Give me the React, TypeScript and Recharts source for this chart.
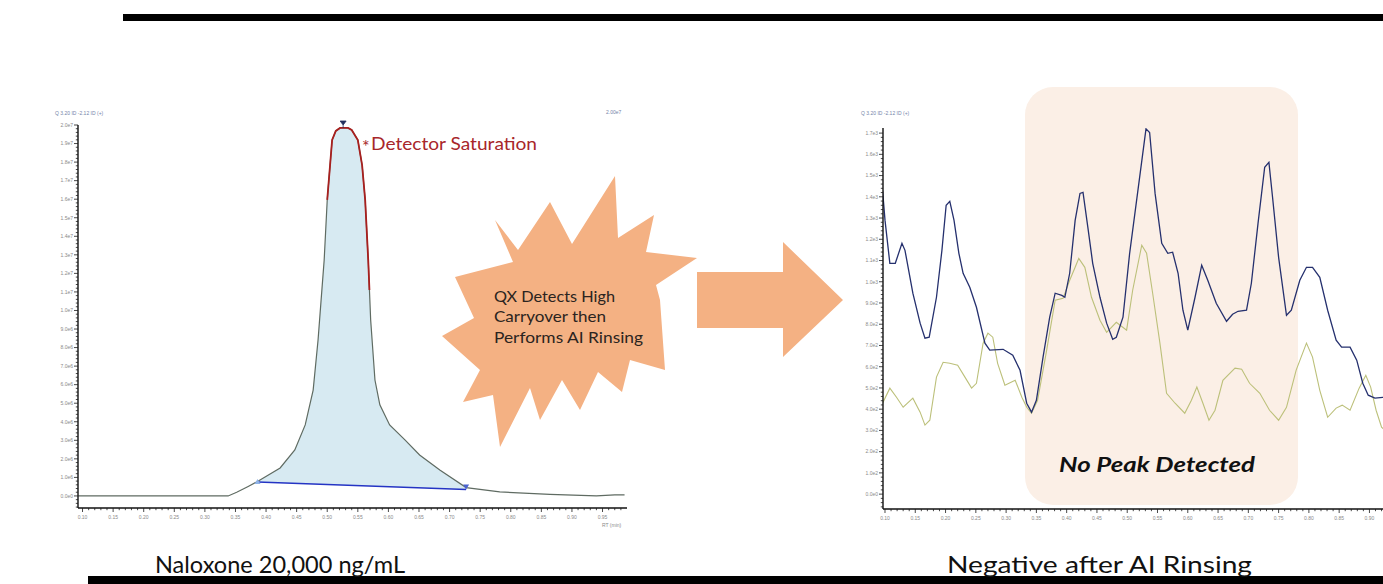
import React from 'react'
import { ComposedChart, LineChart, Line, Area, XAxis, YAxis, ReferenceDot } from 'recharts'

// left panel: saturated naloxone injection (RT min, intensity)
const naloxoneTrace: [number, number][] = [
  [0.093, 0], [0.2, 0], [0.338, 0], [0.352, 0.2e6], [0.37, 0.5e6], [0.386, 0.78e6],
  [0.423, 1.51e6], [0.447, 2.48e6], [0.464, 3.83e6], [0.477, 5.71e6], [0.485, 8.41e6],
  [0.49, 10.57e6], [0.495, 12.72e6], [0.5, 15.96e6], [0.508, 19.19e6], [0.514, 19.68e6],
  [0.521, 19.84e6], [0.534, 19.84e6], [0.54, 19.73e6], [0.55, 19.19e6], [0.557, 17.84e6],
  [0.562, 15.96e6], [0.567, 12.72e6], [0.569, 11.1e6], [0.571, 9.49e6], [0.578, 6.25e6],
  [0.586, 4.91e6], [0.602, 3.83e6], [0.627, 3.02e6], [0.651, 2.21e6], [0.684, 1.4e6],
  [0.727, 0.45e6], [0.782, 0.22e6], [0.864, 0.08e6], [0.94, 0], [0.97, 0.06e6], [0.986, 0.06e6],
]
const integrationBaseline: [number, number][] = [[0.386, 0.75e6], [0.727, 0.35e6]]
const saturatedRange = [0.5, 0.569]
const apexMarker = [0.526, 2.0e7]

// right panel: blank after rinse (RT min, counts)
const blankTraceA: [number, number][] = [
  [0.096, 1430], [0.1, 1290], [0.108, 1087], [0.117, 1087], [0.128, 1181], [0.133, 1148],
  [0.146, 946], [0.158, 805], [0.166, 734], [0.173, 739], [0.185, 927], [0.194, 1148],
  [0.201, 1360], [0.207, 1379], [0.214, 1289], [0.222, 1134], [0.229, 1040], [0.24, 974],
  [0.251, 880], [0.265, 711], [0.273, 678], [0.295, 682], [0.311, 654], [0.323, 583],
  [0.334, 428], [0.342, 386], [0.35, 442], [0.361, 645], [0.372, 833], [0.381, 946],
  [0.392, 936], [0.397, 927], [0.405, 1040], [0.414, 1289], [0.422, 1416], [0.427, 1421],
  [0.435, 1256], [0.443, 1087], [0.455, 927], [0.466, 805], [0.476, 729], [0.482, 739],
  [0.493, 833], [0.504, 1134], [0.531, 1720], [0.537, 1703], [0.546, 1416], [0.557, 1181],
  [0.567, 1134], [0.575, 1139], [0.584, 1040], [0.592, 866], [0.6, 772], [0.612, 927],
  [0.623, 1078], [0.633, 1007], [0.647, 899], [0.664, 814], [0.674, 847], [0.683, 861],
  [0.697, 866], [0.705, 993], [0.716, 1275], [0.727, 1539], [0.734, 1562], [0.74, 1398],
  [0.75, 1115], [0.763, 842], [0.771, 866], [0.785, 1007], [0.796, 1068], [0.806, 1068],
  [0.818, 1021], [0.831, 866], [0.845, 725], [0.854, 692], [0.868, 692], [0.879, 631],
  [0.889, 522], [0.898, 466], [0.909, 452], [0.922, 456], [0.94, 450],
]
const blankTraceB: [number, number][] = [
  [0.096, 428], [0.108, 499], [0.119, 456], [0.13, 409], [0.146, 452], [0.158, 386],
  [0.166, 325], [0.174, 348], [0.185, 551], [0.196, 621], [0.207, 616], [0.22, 607],
  [0.232, 551], [0.243, 499], [0.251, 522], [0.262, 711], [0.27, 758], [0.278, 739],
  [0.286, 616], [0.298, 513], [0.315, 536], [0.326, 456], [0.334, 409], [0.342, 381],
  [0.352, 442], [0.367, 678], [0.381, 913], [0.394, 922], [0.405, 1007], [0.414, 1068],
  [0.42, 1110], [0.43, 1068], [0.441, 927], [0.455, 819], [0.466, 762], [0.482, 809],
  [0.499, 772], [0.509, 960], [0.524, 1172], [0.532, 1134], [0.542, 946], [0.554, 711],
  [0.565, 475], [0.579, 428], [0.595, 381], [0.606, 442], [0.615, 504], [0.625, 428],
  [0.635, 348], [0.645, 395], [0.658, 536], [0.678, 593], [0.689, 588], [0.702, 522],
  [0.719, 475], [0.735, 395], [0.75, 348], [0.763, 409], [0.779, 584], [0.796, 711],
  [0.806, 645], [0.818, 489], [0.831, 362], [0.845, 405], [0.855, 419], [0.868, 395],
  [0.883, 499], [0.894, 560], [0.902, 504], [0.911, 395], [0.92, 315], [0.935, 280],
]

const steps = (from: number, to: number, step: number) =>
  Array.from({ length: Math.round((to - from) / step) + 1 }, (_, i) => +(from + i * step).toFixed(6))

const leftYTicks = steps(-0.6e6, 2.0e7, 0.2e6)
const rightYTicks = steps(-60, 1700, 20)
const leftXTicks = steps(0.1, 0.98, 0.01)
const rightXTicks = steps(0.1, 0.94, 0.01)

const isMultiple = (v: number, step: number) => Math.abs(v / step - Math.round(v / step)) < 1e-6
const tickFont = 'Liberation Sans, Arial, sans-serif'
const peach = '#f4b183'

const yTick = (step: number) => (p: any) => {
  const v = p.payload.value
  const major = isMultiple(v, step)
  return (
    <g>
      <line x1={p.x} x2={p.x - (major ? 4 : 2.2)} y1={p.y} y2={p.y} stroke="#1a1a1a" strokeWidth={0.8} />
      {major && v >= 0 && (
        <text x={p.x - 5} y={p.y + 1.8} textAnchor="end" fontSize={5} fill="#8a8a8a" fontFamily={tickFont}>
          {v.toExponential(1).replace('+', '')}
        </text>
      )}
    </g>
  )
}

const xTick = (p: any) => {
  const v = p.payload.value
  const major = isMultiple(v, 0.05)
  return (
    <g>
      <line x1={p.x} x2={p.x} y1={p.y} y2={p.y + (major ? 4 : 2.2)} stroke="#1a1a1a" strokeWidth={0.8} />
      {major && (
        <text x={p.x} y={p.y + 11} textAnchor="middle" fontSize={5} fill="#8a8a8a" fontFamily={tickFont}>
          {v.toFixed(2)}
        </text>
      )}
    </g>
  )
}

function NaloxonePanel() {
  const [[b0x, b0y], [b1x, b1y]] = integrationBaseline
  const data = naloxoneTrace.map(([rt, v]) => ({
    rt,
    v,
    sat: rt >= saturatedRange[0] && rt <= saturatedRange[1] ? v : null,
    band: rt >= b0x && rt <= b1x ? [b0y + ((rt - b0x) / (b1x - b0x)) * (b1y - b0y), v] : null,
  }))
  const baseline = integrationBaseline.map(([rt, base]) => ({ rt, base }))
  return (
    <ComposedChart width={630} height={440} data={data} margin={{ top: 25, right: 23, bottom: 12, left: 8 }}>
      <XAxis
        type="number"
        dataKey="rt"
        domain={[0.0926, 0.99]}
        ticks={leftXTicks}
        interval={0}
        tick={xTick}
        tickSize={0}
        tickMargin={0}
        tickLine={false}
        height={20}
        allowDataOverflow
        axisLine={{ stroke: '#111', strokeWidth: 1.4 }}
      />
      <YAxis
        type="number"
        domain={[-0.65e6, 2.0e7]}
        ticks={leftYTicks}
        interval={0}
        tick={yTick(1e6)}
        tickSize={0}
        tickMargin={0}
        tickLine={false}
        width={50}
        allowDataOverflow
        axisLine={{ stroke: '#111', strokeWidth: 1.4 }}
      />
      <Area dataKey="band" stroke="none" fill="#d7eaf2" fillOpacity={1} isAnimationActive={false} />
      <Line dataKey="v" stroke="#5f6b62" strokeWidth={1.2} dot={false} isAnimationActive={false} />
      <Line dataKey="sat" stroke="#a8201f" strokeWidth={1.8} dot={false} connectNulls={false} isAnimationActive={false} />
      <Line data={baseline} dataKey="base" stroke="#2434c4" strokeWidth={1.5} dot={false} isAnimationActive={false} />
      <ReferenceDot
        x={apexMarker[0]}
        y={apexMarker[1]}
        ifOverflow="visible"
        shape={(p: any) => (
          <path d={`M${p.cx - 3} ${p.cy - 4} H${p.cx + 3} L${p.cx} ${p.cy} Z M${p.cx} ${p.cy} V${p.cy + 3}`} fill="#23305e" stroke="#23305e" strokeWidth={0.8} />
        )}
      />
      <ReferenceDot
        x={b0x}
        y={b0y}
        shape={(p: any) => <path d={`M${p.cx - 3} ${p.cy + 2} H${p.cx + 3} L${p.cx} ${p.cy - 3} Z`} fill="#8fb3e6" />}
      />
      <ReferenceDot
        x={b1x}
        y={b1y}
        shape={(p: any) => <path d={`M${p.cx - 3} ${p.cy - 5} H${p.cx + 3} L${p.cx} ${p.cy} Z`} fill="#4a62cf" />}
      />
    </ComposedChart>
  )
}

function BlankPanel() {
  const a = blankTraceA.map(([rt, c]) => ({ rt, c }))
  const b = blankTraceB.map(([rt, c]) => ({ rt, c }))
  return (
    <LineChart width={620} height={440} margin={{ top: 28, right: 30, bottom: 11, left: 3 }}>
      <XAxis
        type="number"
        dataKey="rt"
        domain={[0.0967, 1.0]}
        ticks={rightXTicks}
        interval={0}
        tick={xTick}
        tickSize={0}
        tickMargin={0}
        tickLine={false}
        height={20}
        allowDataOverflow
        axisLine={{ stroke: '#111', strokeWidth: 1.4 }}
      />
      <YAxis
        type="number"
        domain={[-70, 1724]}
        ticks={rightYTicks}
        interval={0}
        tick={yTick(100)}
        tickSize={0}
        tickMargin={0}
        tickLine={false}
        width={40}
        allowDataOverflow
        axisLine={{ stroke: '#111', strokeWidth: 1.4 }}
      />
      <Line data={b} dataKey="c" stroke="#bcc07a" strokeWidth={1.1} dot={false} isAnimationActive={false} />
      <Line data={a} dataKey="c" stroke="#25306e" strokeWidth={1.3} dot={false} isAnimationActive={false} />
    </LineChart>
  )
}

const starburst =
  '495,220 518,250 550,202 572,244 615,176 618,238 654,215 646,252 697,258 656,285 660,300 665,370 630,360 622,392 598,372 580,410 562,380 540,420 530,388 500,447 493,395 463,402 480,370 442,336 474,318 455,277 513,262'
const arrow = '697,272 783,272 783,242 843,300 783,357 783,328 697,328'
const labelFont = 'Lato, "Open Sans", sans-serif'

export default function App() {
  return (
    <div style={{ position: 'fixed', left: 0, top: 0, width: 1383, height: 584, overflow: 'hidden', background: '#fff' }}>
      <div style={{ position: 'absolute', left: 1025, top: 87, width: 273, height: 418, borderRadius: 28, background: '#fbefe6' }} />
      <div style={{ position: 'absolute', left: 20, top: 100 }}>
        <NaloxonePanel />
      </div>
      <div style={{ position: 'absolute', left: 840, top: 100 }}>
        <BlankPanel />
      </div>
      <svg width={1383} height={584} style={{ position: 'absolute', left: 0, top: 0, pointerEvents: 'none' }}>
        <rect x={123} y={14} width={1260} height={7} fill="#000" />
        <rect x={88} y={576} width={1295} height={8} fill="#000" />
        <g fontFamily={tickFont} fontSize={5} fill="#7484a8">
          <text x={55} y={115}>Q 3.20 ID -2.12 ID (+)</text>
          <text x={606} y={114}>2.00e7</text>
          <text x={861} y={115}>Q 3.20 ID -2.12 ID (+)</text>
        </g>
        <text x={602} y={527} fontFamily={tickFont} fontSize={5} fill="#8a8a8a">RT (min)</text>
        <text x={362} y={153} fontFamily={labelFont} fontSize={18} fill="#a8262a">*</text>
        <text x={371} y={150} fontFamily={labelFont} fontSize={17} fill="#a8262a" textLength={166} lengthAdjust="spacingAndGlyphs">
          Detector Saturation
        </text>
        <polygon points={starburst} fill={peach} />
        <polygon points={arrow} fill={peach} />
        <g fontFamily={labelFont} fontSize={15} fill="#2b2420">
          <text x={494} y={302} textLength={121} lengthAdjust="spacingAndGlyphs">QX Detects High</text>
          <text x={494} y={322} textLength={112} lengthAdjust="spacingAndGlyphs">Carryover then</text>
          <text x={494} y={343} textLength={149} lengthAdjust="spacingAndGlyphs">Performs AI Rinsing</text>
        </g>
        <text x={1059} y={472} fontFamily={labelFont} fontSize={20} fontWeight="bold" fontStyle="italic" fill="#111" textLength={196} lengthAdjust="spacingAndGlyphs">
          No Peak Detected
        </text>
        <text x={155} y={573} fontFamily={labelFont} fontSize={23} fill="#111" textLength={250} lengthAdjust="spacingAndGlyphs">
          Naloxone 20,000 ng/mL
        </text>
        <text x={947} y={573} fontFamily={labelFont} fontSize={23} fill="#111" textLength={305} lengthAdjust="spacingAndGlyphs">
          Negative after AI Rinsing
        </text>
      </svg>
    </div>
  )
}
